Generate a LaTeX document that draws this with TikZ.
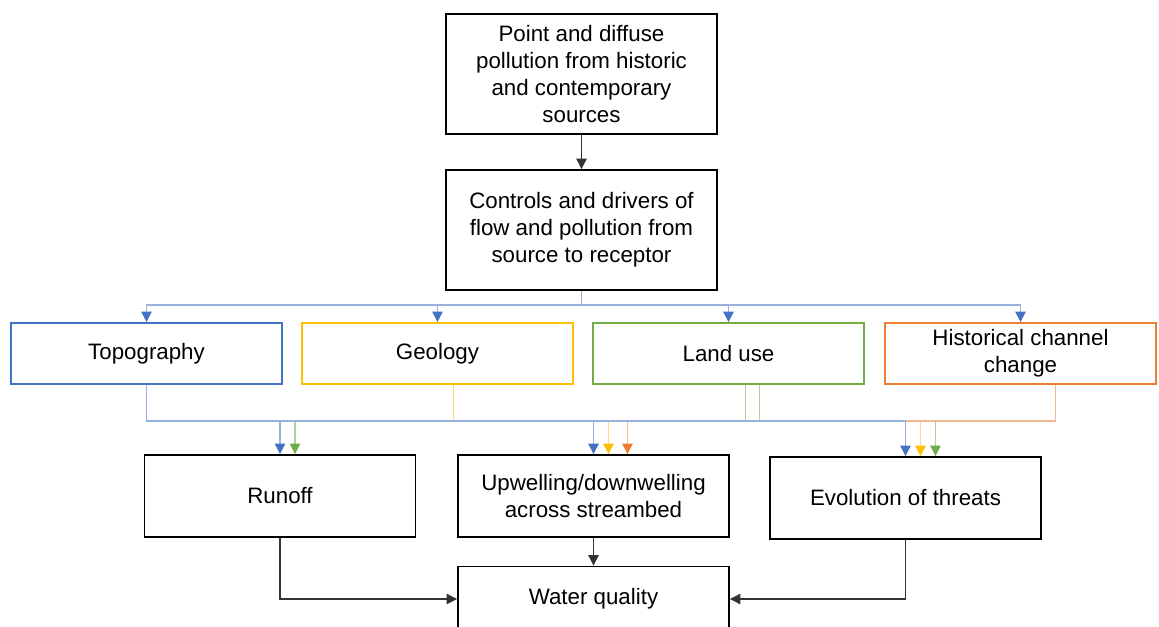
\documentclass[tikz,border=0pt]{standalone}
\usepackage{fontspec}
\setmainfont{Liberation Sans}
\usetikzlibrary{arrows.meta, calc}
\definecolor{tblue}{HTML}{4472C4}
\definecolor{tyellow}{HTML}{FFC000}
\definecolor{tgreen}{HTML}{70AD47}
\definecolor{torange}{HTML}{ED7D31}
\tikzset{%
	box/.style={draw, line width=1.1pt, rectangle, minimum width=5.42cm,%
		inner sep=1pt, align=center, font=\fontsize{12.7}{15.3}\selectfont},
	mainbox/.style={box, minimum height=2.4cm},
	factor/.style={box, draw=#1, minimum height=1.22cm},
	proc/.style={box, minimum height=1.64cm},
	blk/.style={line width=0.6pt, draw=black!80, -{Triangle[width=6pt,length=6pt]}},
	link/.style={line width=0.7pt, draw=#1!55, -{Triangle[width=6pt,length=6pt,color=#1,fill=#1]}}
}

\begin{document}
\begin{tikzpicture}[x=0.02cm, y=-0.02cm]
	\useasboundingbox (0,0) rectangle (1159,626);

	\node[mainbox] (src) at (581.5,74) {Point and diffuse\\pollution from historic\\and contemporary\\sources};
	\node[mainbox] (ctrl) at (581.5,230) {Controls and drivers of\\flow and pollution from\\source to receptor};

	\node[factor=tblue] (topo) at (146.5,353.5) {Topography};
	\node[factor=tyellow] (geo) at (437.5,353.5) {Geology};
	\node[factor=tgreen] (land) at (728.5,353.5) {Land use};
	\node[factor=torange] (hist) at (1020.5,353.5) {Historical channel\\change};

	\node[proc] (runoff) at (280,496) {Runoff};
	\node[proc] (upw) at (593.5,496) {Upwelling/downwelling\\across streambed};
	\node[proc] (evol) at (905.5,498) {Evolution of threats};
	\node[proc, minimum height=1.3cm] (water) at (593.5,599) {Water quality};

	\coordinate (top) at (0,305);
	\coordinate (bus) at (0,421);

	% source to drivers to factors
	\draw[blk] (src) -- (ctrl);
	\foreach \f in {topo, geo, land, hist}
		\draw[link=tblue] (ctrl.south) |- (\f.north |- top) -- (\f.north);

	% factors to processes
	\draw[link=tyellow] ($(geo.south)+(16,0)$) |- ($(evol.north |- bus)+(15,0)$) -- ($(evol.north)+(15,0)$);
	\draw[link=tyellow] ($(upw.north |- bus)+(15,0)$) -- ($(upw.north)+(15,0)$);
	\draw[link=tgreen] ($(land.south)+(17,0)$) |- ($(runoff.north |- bus)+(15,0)$) -- ($(runoff.north)+(15,0)$);
	\draw[link=tgreen] ($(land.south)+(31,0)$) |- ($(evol.north |- bus)+(30,0)$) -- ($(evol.north)+(30,0)$);
	\draw[link=torange] ($(hist.south)+(35,0)$) |- ($(upw.north |- bus)+(34,0)$) -- ($(upw.north)+(34,0)$);
	\draw[link=tblue] (topo.south) |- (evol.north |- bus) -- (evol.north);
	\draw[link=tblue] (runoff.north |- bus) -- (runoff.north);
	\draw[link=tblue] (upw.north |- bus) -- (upw.north);

	% processes to water quality
	\draw[blk] (runoff.south) |- (water.west);
	\draw[blk] (upw.south) -- (water.north);
	\draw[blk] (evol.south) |- (water.east);
\end{tikzpicture}
\end{document}
